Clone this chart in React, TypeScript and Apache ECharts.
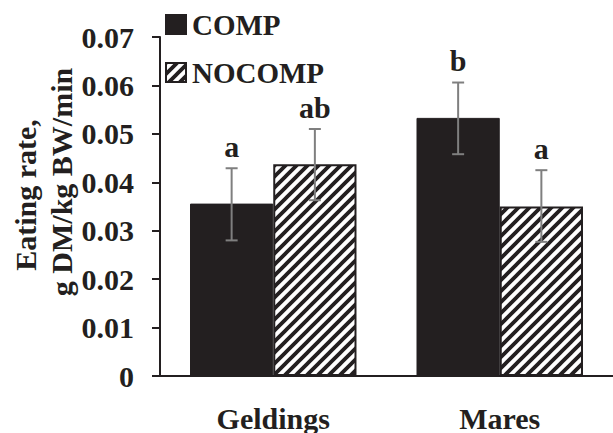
import React, { useEffect, useRef } from 'react';
import * as echarts from 'echarts';

const categories = ['Geldings', 'Mares'];
const seriesNames = ['COMP', 'NOCOMP'];
const compValues = [0.0356, 0.0533];
const nocompValues = [0.0437, 0.035];
const compErrLow = [0.028, 0.0458];
const compErrHigh = [0.0429, 0.0606];
const nocompErrLow = [0.0363, 0.0277];
const nocompErrHigh = [0.051, 0.0425];
const compLetters = ['a', 'b'];
const nocompLetters = ['ab', 'a'];
const yTitleLines = ['Eating rate,', 'g DM/kg BW/min'];

const INK = '#231f20';
const FONT = '"Liberation Serif", "Times New Roman", serif';
const GAP = 0.265;

function makeHatch(): HTMLCanvasElement {
  const s = 11;
  const c = document.createElement('canvas');
  c.width = s;
  c.height = s;
  const ctx = c.getContext('2d')!;
  ctx.fillStyle = '#ffffff';
  ctx.fillRect(0, 0, s, s);
  ctx.strokeStyle = INK;
  ctx.lineWidth = 3.8;
  ctx.beginPath();
  [0, s, 2 * s].forEach((k) => {
    ctx.moveTo(k + 3, -3);
    ctx.lineTo(-3, k + 3);
  });
  ctx.stroke();
  return c;
}

export default function App() {
  const ref = useRef<HTMLDivElement>(null);

  useEffect(() => {
    if (!ref.current) return;
    const chart = echarts.init(ref.current, undefined, { renderer: 'svg' });
    const hatch = makeHatch();

    const errItems: { cat: number; side: number; lo: number; hi: number; letter: string }[] = [];
    categories.forEach((_, i) => {
      errItems.push({ cat: i, side: 0, lo: compErrLow[i], hi: compErrHigh[i], letter: compLetters[i] });
      errItems.push({ cat: i, side: 1, lo: nocompErrLow[i], hi: nocompErrHigh[i], letter: nocompLetters[i] });
    });

    const option: any = {
      animation: false,
      textStyle: { fontFamily: FONT, color: INK },
      grid: { left: 160, right: -5, top: 37, bottom: 53, containLabel: false },
      legend: {
        orient: 'vertical',
        left: 165,
        top: 10,
        padding: 0,
        itemWidth: 20,
        itemHeight: 19,
        itemGap: 19,
        icon: 'rect',
        data: [
          { name: seriesNames[0] },
          { name: seriesNames[1], itemStyle: { borderColor: INK, borderWidth: 2 } },
        ],
        textStyle: { fontFamily: FONT, fontWeight: 'bold', fontSize: 29, color: INK, padding: [0, 0, 0, 1] },
      },
      xAxis: {
        type: 'category',
        data: categories,
        axisLine: { show: true, lineStyle: { color: INK, width: 2 } },
        axisTick: { show: false },
        axisLabel: { fontFamily: FONT, fontWeight: 'bold', fontSize: 30, color: INK, margin: 27 },
        splitLine: { show: false },
      },
      yAxis: {
        type: 'value',
        min: 0,
        max: 0.07,
        interval: 0.01,
        axisLine: { show: true, lineStyle: { color: INK, width: 2 } },
        axisTick: { show: true, inside: false, length: 8, lineStyle: { color: INK, width: 2 } },
        axisLabel: {
          fontFamily: FONT,
          fontWeight: 'bold',
          fontSize: 30,
          color: INK,
          margin: 26,
          formatter: (v: number) => (v === 0 ? '0' : v.toFixed(2)),
        },
        splitLine: { show: false },
      },
      graphic: [
        {
          type: 'text',
          x: 25,
          y: 195,
          rotation: Math.PI / 2,
          style: {
            text: yTitleLines[0],
            font: `bold 30px ${FONT}`,
            fill: INK,
            align: 'center',
            verticalAlign: 'middle',
          },
        },
        {
          type: 'text',
          x: 61,
          y: 182,
          rotation: Math.PI / 2,
          style: {
            text: yTitleLines[1],
            font: `bold 30px ${FONT}`,
            fill: INK,
            align: 'center',
            verticalAlign: 'middle',
          },
        },
      ],
      series: [
        {
          name: seriesNames[0],
          type: 'bar',
          data: compValues,
          barGap: '0%',
          barCategoryGap: GAP * 100 + '%',
          itemStyle: { color: INK, borderColor: INK, borderWidth: 1 },
        },
        {
          name: seriesNames[1],
          type: 'bar',
          data: nocompValues,
          barGap: '0%',
          barCategoryGap: GAP * 100 + '%',
          itemStyle: { color: { image: hatch, repeat: 'repeat' }, borderColor: INK, borderWidth: 2 },
        },
        {
          type: 'custom',
          name: 'err',
          data: errItems.map((e) => [e.cat, e.lo, e.hi, e.side]),
          encode: { x: 0, y: [1, 2] },
          z: 10,
          renderItem: (params: any, api: any) => {
            const cat = api.value(0);
            const lo = api.value(1);
            const hi = api.value(2);
            const side = api.value(3);
            const band = api.size([1, 0])[0];
            const barW = (band * (1 - GAP)) / 2;
            const cx = api.coord([cat, 0])[0] + (side === 0 ? -barW / 2 : barW / 2);
            const yLo = api.coord([cat, lo])[1];
            const yHi = api.coord([cat, hi])[1];
            const cap = 6;
            const st = { stroke: '#7f7f7f', lineWidth: 2 };
            const letter = errItems[params.dataIndex].letter;
            return {
              type: 'group',
              children: [
                { type: 'line', shape: { x1: cx, y1: yLo, x2: cx, y2: yHi }, style: st },
                { type: 'line', shape: { x1: cx - cap, y1: yLo, x2: cx + cap, y2: yLo }, style: st },
                { type: 'line', shape: { x1: cx - cap, y1: yHi, x2: cx + cap, y2: yHi }, style: st },
                {
                  type: 'text',
                  x: cx,
                  y: yHi - 7,
                  style: {
                    text: letter,
                    font: `bold 30px ${FONT}`,
                    fill: INK,
                    align: 'center',
                    verticalAlign: 'bottom',
                  },
                },
              ],
            };
          },
        },
      ],
    };
    chart.setOption(option);
    return () => chart.dispose();
  }, []);

  return (
    <div
      ref={ref}
      style={{ position: 'absolute', left: 0, top: 0, width: 613, height: 433, background: '#fff' }}
    />
  );
}
